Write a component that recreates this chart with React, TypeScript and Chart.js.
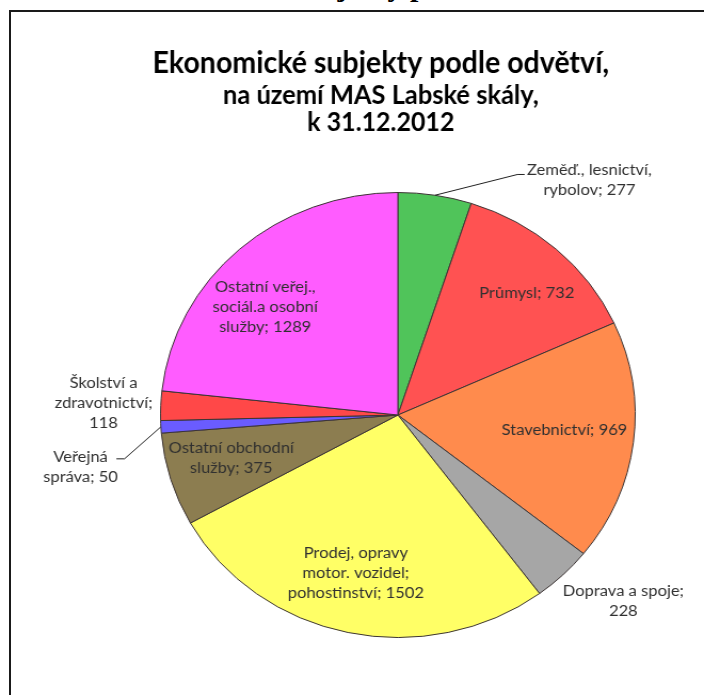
import React, { useEffect, useRef } from "react";
import { Chart, registerables } from "chart.js";

Chart.register(...registerables);

// ---------- data ----------
const categories: string[] = [
  "Zeměď., lesnictví,\nrybolov",
  "Průmysl",
  "Stavebnictví",
  "Doprava a spoje",
  "Prodej, opravy\nmotor. vozidel;\npohostinství",
  "Ostatní obchodní\nslužby",
  "Veřejná\nspráva",
  "Školství a\nzdravotnictví",
  "Ostatní veřej.,\nsociál.a osobní\nslužby",
];
const values: number[] = [277, 732, 969, 228, 1502, 375, 50, 118, 1289];
const valueOnNewLine: boolean[] = [false, false, false, true, false, false, false, true, false];
const sliceColors: string[] = [
  "#50c45a",
  "#ff5252",
  "#ff8b4d",
  "#a6a6a6",
  "#ffff66",
  "#8c7d50",
  "#6a5cff",
  "#ff4848",
  "#ff5cff",
];
const titleLines: string[] = [
  "Ekonomické subjekty podle odvětví,",
  "na území MAS Labské skály,",
  "k 31.12.2012",
];

// ---------- layout / style ----------
const CANVAS_W = 660;
const CANVAS_H = 695;
const STRETCH = 704 / 660;
const FONT = "Lato, 'Open Sans', 'DejaVu Sans', sans-serif";
const titleX = 357;
const titleBaselines = [73, 104, 131];
const titleWidths = [428, 296, 138];
const titleVScale = 1.12;
const labelFontSize = 15.5;
const labelLineH = 20;
// label centres, in units of the pie radius, relative to the pie centre
const labelOffsets: [number, number][] = [
  [0.807, -1.054],
  [0.543, -0.547],
  [0.702, 0.067],
  [0.95, 0.836],
  [-0.177, 0.709],
  [-0.702, 0.193],
  [-1.337, 0.233],
  [-1.24, -0.054],
  [-0.559, -0.484],
];
// leader lines: [elbowX, elbowY, endX] in radius units (null = none)
const leaders: ([number, number, number] | null)[] = [
  [0.504, -1.081, 0.534],
  null,
  null,
  null,
  null,
  null,
  [-1.152, 0.197, -1.186],
  null,
  null,
];

const labelPlugin = {
  id: "sliceLabels",
  afterDraw(chart: any) {
    const ctx: CanvasRenderingContext2D = chart.ctx;
    ctx.save();
    // title
    ctx.fillStyle = "#000";
    ctx.textAlign = "center";
    ctx.textBaseline = "alphabetic";
    titleLines.forEach((t, i) => {
      ctx.font = `bold 100px ${FONT}`;
      const w = ctx.measureText(t).width;
      const size = (100 * titleWidths[i]) / w;
      ctx.font = `bold ${size.toFixed(2)}px ${FONT}`;
      ctx.save();
      ctx.translate(titleX, titleBaselines[i]);
      ctx.scale(1, titleVScale);
      ctx.fillText(t, 0, 0);
      ctx.restore();
    });

    const meta = chart.getDatasetMeta(0);
    meta.data.forEach((el: any, i: number) => {
      const p = el.getProps(["x", "y", "startAngle", "endAngle", "outerRadius"], true);
      const r = p.outerRadius;
      const mid = (p.startAngle + p.endAngle) / 2;
      const lx = p.x + labelOffsets[i][0] * r;
      const ly = p.y + labelOffsets[i][1] * r;
      const ld = leaders[i];
      if (ld) {
        ctx.strokeStyle = "#202020";
        ctx.lineWidth = 1;
        ctx.beginPath();
        ctx.moveTo(p.x + Math.cos(mid) * r, p.y + Math.sin(mid) * r);
        ctx.lineTo(p.x + ld[0] * r, p.y + ld[1] * r);
        ctx.lineTo(p.x + ld[2] * r, p.y + ld[1] * r);
        ctx.stroke();
      }
      const text = categories[i] + (valueOnNewLine[i] ? ";\n" : "; ") + values[i];
      const lines = text.split("\n");
      ctx.font = `${labelFontSize}px ${FONT}`;
      ctx.fillStyle = "#303030";
      ctx.textAlign = "center";
      ctx.textBaseline = "middle";
      lines.forEach((ln, j) => {
        ctx.fillText(ln, lx, ly + (j - (lines.length - 1) / 2) * labelLineH);
      });
    });
    ctx.restore();
  },
};

export default function App() {
  const ref = useRef<HTMLCanvasElement | null>(null);
  useEffect(() => {
    if (!ref.current) return;
    const chart = new Chart(ref.current, {
      type: "pie",
      data: {
        labels: categories.map((c) => c.replace(/\n/g, " ")),
        datasets: [
          {
            data: values,
            backgroundColor: sliceColors,
            borderColor: "#3c3434",
            borderWidth: 1,
          },
        ],
      },
      options: {
        responsive: false,
        animation: false,
        devicePixelRatio: 1,
        layout: { padding: { left: 150, right: 64, top: 192, bottom: 57 } },
        plugins: {
          legend: { display: false },
          tooltip: { enabled: false },
          title: { display: false },
        },
      },
      plugins: [labelPlugin],
    });
    return () => chart.destroy();
  }, []);

  return (
    <div
      style={{
        position: "fixed",
        left: 0,
        top: 0,
        width: 704,
        height: 695,
        overflow: "hidden",
        background: "#fff",
      }}
    >
      <div
        style={{
          position: "absolute",
          left: 125,
          top: -29,
          whiteSpace: "nowrap",
          fontFamily: "'Liberation Serif', 'Times New Roman', serif",
          fontWeight: "bold",
          fontSize: 30,
          lineHeight: "30px",
          color: "#000",
        }}
      >
        Ekonomické subjekty podle odvětví
      </div>
      <div
        style={{
          position: "absolute",
          left: 9,
          top: 10,
          width: 695,
          height: 685,
          boxSizing: "border-box",
          borderLeft: "2px solid #1a1a1a",
          borderTop: "2px solid #1a1a1a",
        }}
      />
      <div
        style={{
          position: "absolute",
          left: 0,
          top: 0,
          width: CANVAS_W,
          height: CANVAS_H,
          transform: `scaleX(${STRETCH})`,
          transformOrigin: "0 0",
        }}
      >
        <canvas ref={ref} width={CANVAS_W} height={CANVAS_H} />
      </div>
    </div>
  );
}
